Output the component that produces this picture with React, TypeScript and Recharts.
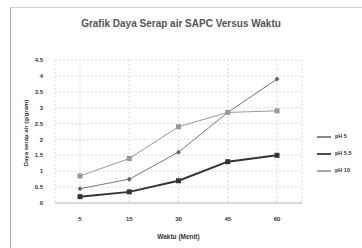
import { LineChart, Line, XAxis, YAxis, CartesianGrid, Legend } from "recharts";

const waktu = ["5", "15", "30", "45", "60"];
const ph5 = [0.45, 0.75, 1.6, 2.85, 3.9];
const ph55 = [0.2, 0.35, 0.7, 1.3, 1.5];
const ph10 = [0.85, 1.4, 2.4, 2.85, 2.9];
const yTicks = [0, 0.5, 1, 1.5, 2, 2.5, 3, 3.5, 4, 4.5];

const data = waktu.map((w, i) => ({ waktu: w, a_ph5: ph5[i], b_ph55: ph55[i], c_ph10: ph10[i] }));

const font = "'Liberation Sans', Arial, sans-serif";

const Diamond = (props: any) => {
  const { cx, cy, fill } = props;
  if (cx == null || cy == null) return null;
  return <path d={`M${cx},${cy - 2.5}L${cx + 2.5},${cy}L${cx},${cy + 2.5}L${cx - 2.5},${cy}Z`} fill={fill} />;
};

const Square = (props: any) => {
  const { cx, cy, fill } = props;
  if (cx == null || cy == null) return null;
  return <rect x={cx - 2.5} y={cy - 2.5} width={5} height={5} fill={fill} />;
};

export default function App() {
  return (
    <div style={{ position: "absolute", left: 0, top: 0, width: 362, height: 248, background: "#fff" }}>
      <div style={{ position: "absolute", left: 10, top: 7, width: 351, height: 240, borderLeft: "1px solid #aaa", borderTop: "1px solid #ccc", borderRight: "1px solid #e4e4e4" }} />
      <div style={{ position: "absolute", left: 0, top: 18, width: 362, textAlign: "center", fontFamily: font, fontSize: 10, fontWeight: "bold", color: "#555" }}>
        Grafik Daya Serap air SAPC Versus Waktu
      </div>
      <LineChart width={362} height={248} data={data} margin={{ top: 60, right: 15, bottom: 15, left: 20 }} style={{ position: "absolute", left: 0, top: 0 }}>
        <CartesianGrid stroke="#ddd" strokeDasharray="2 2" vertical={true} />
        <XAxis
          dataKey="waktu"
          height={30}
          padding={{ left: 25, right: 25 }}
          tickLine={false}
          axisLine={{ stroke: "#bbb" }}
          tickMargin={8}
          tick={{ fontSize: 6, fontFamily: font, fontWeight: "bold", fill: "#333" }}
          label={{ value: "Waktu (Menit)", position: "insideBottom", offset: -6, fontSize: 6.5, fontFamily: font, fontWeight: "bold", fill: "#333" }}
        />
        <YAxis
          width={35}
          domain={[0, 4.5]}
          ticks={yTicks}
          interval={0}
          tickLine={false}
          axisLine={false}
          tickMargin={6}
          tick={{ fontSize: 6, fontFamily: font, fontWeight: "bold", fill: "#333" }}
        />
        <text x={26} y={133} transform="rotate(-90 26 133)" textAnchor="middle" dominantBaseline="central" fontSize={6} fontFamily={font} fontWeight="bold" fill="#333">
          Daya serap air (g/gram)
        </text>
        <Legend
          layout="vertical"
          align="right"
          verticalAlign="top"
          width={45}
          iconType="plainline"
          iconSize={14}
          itemSorter="dataKey"
          wrapperStyle={{ top: 128, right: 0, fontFamily: font, fontSize: 5.5, fontWeight: "bold", lineHeight: "17px" }}
          formatter={(v) => <span style={{ color: "#333" }}>{v}</span>}
        />
        <Line isAnimationActive={false} dataKey="a_ph5" name="pH 5" stroke="#777" strokeWidth={1} dot={<Diamond fill="#666" />} />
        <Line isAnimationActive={false} dataKey="b_ph55" name="pH 5.5" stroke="#333" strokeWidth={2} dot={<Square fill="#333" />} />
        <Line isAnimationActive={false} dataKey="c_ph10" name="pH 10" stroke="#999" strokeWidth={1} dot={<Square fill="#999" />} />
      </LineChart>
    </div>
  );
}
